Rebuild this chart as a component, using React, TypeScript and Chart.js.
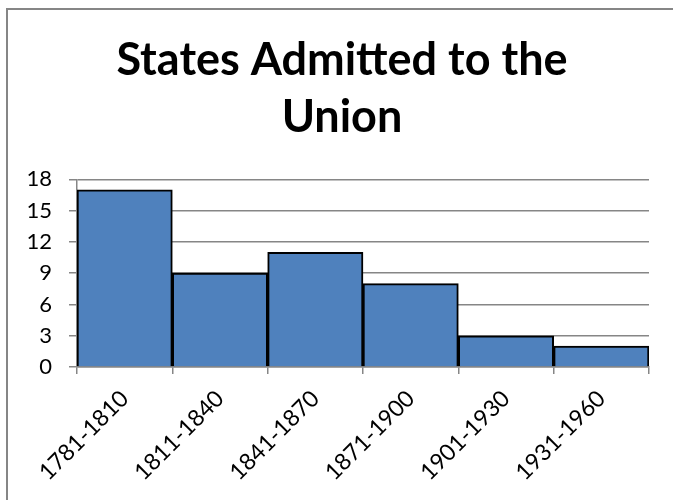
import React, { useEffect, useRef } from "react";
import { Chart, registerables } from "chart.js";

Chart.register(...registerables);

const categories = ["1781-1810", "1811-1840", "1841-1870", "1871-1900", "1901-1930", "1931-1960"];
const statesAdmitted = [17, 9, 11, 8, 3, 2];
const titleLines = ["States Admitted to the", "Union"];
const yMin = 0;
const yMax = 18;
const yStep = 3;

const FONT = "Lato, 'Open Sans', sans-serif";
const GRID = "#868686";

export default function App() {
  const ref = useRef<HTMLCanvasElement | null>(null);

  useEffect(() => {
    if (!ref.current) return;
    const chart = new Chart(ref.current, {
      type: "bar",
      data: {
        labels: categories,
        datasets: [
          {
            data: statesAdmitted,
            backgroundColor: "#4F81BD",
            borderColor: "#000000",
            borderWidth: 2,
            barPercentage: 1,
            categoryPercentage: 1,
          },
        ],
      },
      options: {
        animation: false,
        responsive: false,
        maintainAspectRatio: false,
        layout: { padding: { left: 3, right: 0, top: 0, bottom: 0 } },
        plugins: {
          legend: { display: false },
          tooltip: { enabled: false },
          title: {
            display: true,
            text: titleLines,
            color: "#000000",
            font: { family: FONT, size: 45, weight: "bold", lineHeight: 1.27 },
            padding: { top: 22, bottom: 33 },
          },
        },
        scales: {
          x: {
            grid: {
              display: true,
              drawOnChartArea: false,
              drawTicks: true,
              tickLength: 7,
              color: GRID,
              lineWidth: 1.5,
              offset: true,
            },
            border: { display: true, color: GRID, width: 1.5 },
            ticks: {
              color: "#000000",
              font: { family: FONT, size: 23 },
              minRotation: 45,
              maxRotation: 45,
              autoSkip: false,
              padding: 11,
            },
            afterFit: (s: any) => {
              s.height = 133;
            },
          },
          y: {
            min: yMin,
            max: yMax,
            grid: {
              color: GRID,
              lineWidth: 1.5,
              drawTicks: true,
              tickLength: 8,
            },
            border: { display: true, color: GRID, width: 1.5 },
            ticks: {
              stepSize: yStep,
              color: "#000000",
              font: { family: FONT, size: 22 },
              padding: 17,
            },
            afterFit: (s: any) => {
              s.width = 66;
            },
          },
          yRight: {
            position: "right",
            display: true,
            grid: { display: false, drawTicks: false },
            border: { display: false },
            ticks: { display: false },
            afterFit: (s: any) => {
              s.width = 24;
            },
          },
        },
      },
    });
    return () => chart.destroy();
  }, []);

  return (
    <div
      style={{
        position: "absolute",
        left: 6,
        top: 8,
        width: 667,
        height: 492,
        borderLeft: "2px solid #868686",
        borderTop: "2px solid #868686",
        overflow: "hidden",
        background: "#ffffff",
      }}
    >
      <canvas ref={ref} width={665} height={490} style={{ display: "block" }} />
    </div>
  );
}
